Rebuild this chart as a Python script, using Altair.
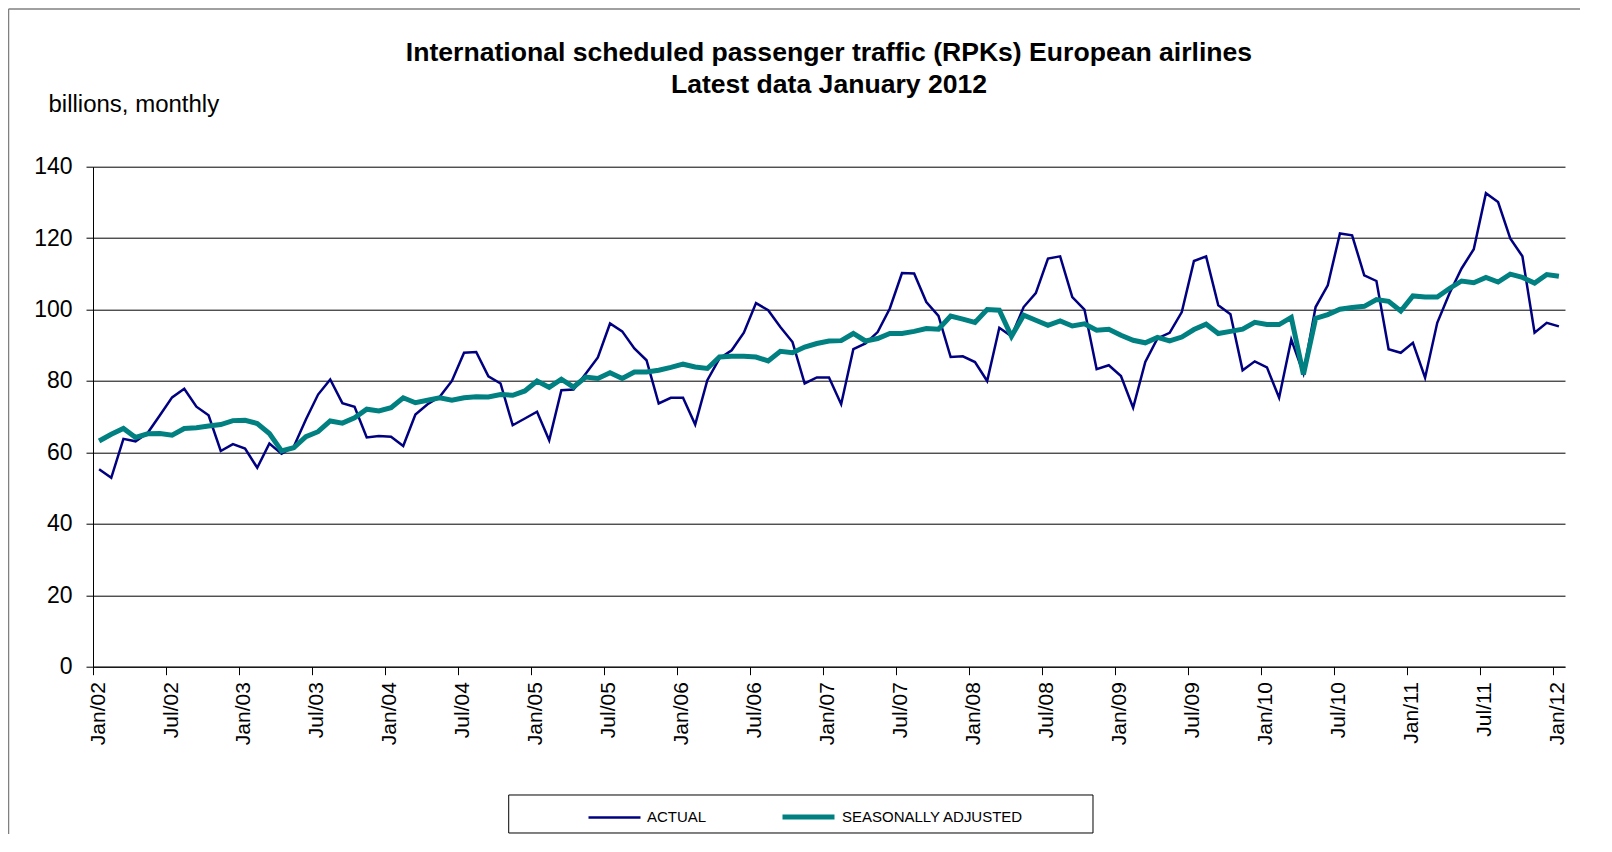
import altair as alt
import pandas as pd

# ---------------- data ----------------
tick_labels = ["Jan/02", "Jul/02", "Jan/03", "Jul/03", "Jan/04", "Jul/04", "Jan/05",
               "Jul/05", "Jan/06", "Jul/06", "Jan/07", "Jul/07", "Jan/08", "Jul/08",
               "Jan/09", "Jul/09", "Jan/10", "Jul/10", "Jan/11", "Jul/11", "Jan/12"]

# monthly values Jan 2002 .. Jan 2012 (billions RPKs)
actual = [
    55.3, 52.9, 63.8, 63.1, 65.5, 70.4, 75.4, 77.8, 72.8, 70.4, 60.4, 62.3,
    61.1, 55.7, 62.5, 59.6, 61.6, 69.2, 76.2, 80.4, 73.8, 72.8, 64.2, 64.6,
    64.4, 61.8, 70.6, 73.5, 75.6, 80.0, 87.9, 88.1, 81.3, 79.3, 67.6, 69.5,
    71.4, 63.4, 77.4, 77.6, 82.0, 86.6, 96.1, 93.9, 89.1, 85.8, 73.7, 75.3,
    75.3, 67.8, 80.2, 86.3, 88.6, 93.5, 101.8, 99.8, 95.1, 90.9, 79.3, 81.0,
    81.0, 73.5, 88.9, 90.5, 93.7, 100.3, 110.2, 110.1, 102.1, 98.2, 86.7, 86.9,
    85.3, 80.0, 94.9, 92.5, 100.7, 104.6, 114.3, 114.9, 103.5, 100.0, 83.3, 84.4,
    81.4, 72.5, 85.3, 91.9, 93.5, 99.3, 113.6, 114.9, 101.2, 98.7, 83.0, 85.5,
    83.8, 75.3, 91.6, 82.1, 100.7, 106.8, 121.3, 120.8, 109.6, 108.0, 88.9, 87.9,
    90.7, 80.9, 96.3, 104.5, 111.5, 116.9, 132.6, 130.1, 119.9, 114.9, 93.5, 96.3,
    95.3,
]

seasonally_adjusted = [
    63.2, 65.1, 66.7, 64.2, 65.2, 65.3, 64.8, 66.7, 66.9, 67.4, 67.8, 68.9,
    69.0, 68.1, 65.3, 60.4, 61.3, 64.4, 65.8, 68.8, 68.2, 69.7, 72.1, 71.6,
    72.5, 75.3, 73.9, 74.6, 75.3, 74.6, 75.3, 75.6, 75.5, 76.2, 76.0, 77.2,
    80.0, 78.2, 80.5, 78.3, 81.1, 80.7, 82.3, 80.7, 82.5, 82.5, 83.0, 83.8,
    84.7, 83.9, 83.5, 86.7, 86.9, 86.9, 86.7, 85.6, 88.3, 87.9, 89.5, 90.5,
    91.2, 91.3, 93.3, 91.2, 91.9, 93.3, 93.3, 93.9, 94.7, 94.5, 98.2, 97.3,
    96.4, 100.0, 99.8, 92.5, 98.4, 97.0, 95.6, 96.8, 95.4, 96.0, 94.2, 94.5,
    92.8, 91.4, 90.7, 92.2, 91.2, 92.3, 94.4, 95.9, 93.3, 93.9, 94.5, 96.4,
    95.8, 95.8, 97.8, 81.8, 97.5, 98.6, 100.1, 100.6, 100.9, 102.8, 102.3, 99.6,
    103.8, 103.5, 103.5, 105.9, 108.0, 107.5, 109.0, 107.7, 109.9, 109.0, 107.4, 109.8,
    109.3,
]

series_names = ["ACTUAL", "SEASONALLY ADJUSTED"]
series_colors = ["#000080", "#008080"]
y_ticks = [0, 20, 40, 60, 80, 100, 120, 140]
title_lines = ["International scheduled passenger traffic (RPKs) European airlines",
               "Latest data January 2012"]
y_title = "billions, monthly"

# ---------------- table ----------------
n = len(actual)
df = pd.DataFrame({
    "idx": list(range(n)) * 2,
    "series": [series_names[0]] * n + [series_names[1]] * n,
    "value": actual + seasonally_adjusted,
})

FONT = "Liberation Sans"
W, H = 1472, 500

label_js = "[" + ",".join("'" + t + "'" for t in tick_labels) + "]"
x_tick_values = [k * 6 - 0.5 for k in range(len(tick_labels))]

legend_def = alt.Legend(
    title=None, orient="none", direction="horizontal",
    legendX=494, legendY=621.5, symbolType="stroke", symbolSize=2704,
    labelFont=FONT, labelFontSize=15, labelColor="black", labelOffset=5,
    labelLimit=400, columnPadding=65, padding=0,
)

lines = alt.Chart(df).mark_line().encode(
    x=alt.X(
        "idx:Q",
        scale=alt.Scale(domain=[-0.5, n - 0.5], nice=False, zero=False),
        axis=alt.Axis(
            values=x_tick_values,
            labelExpr=label_js + "[round((datum.value + 0.5) / 6)]",
            labelAngle=270, labelFont=FONT, labelFontSize=21, labelColor="black",
            labelPadding=7, labelOffset=5, labelFlush=False, labelOverlap=False,
            tickSize=8, tickColor="black", domainColor="black", grid=False, title=None,
        ),
    ),
    y=alt.Y(
        "value:Q",
        scale=alt.Scale(domain=[0, 140], nice=False, zero=True),
        axis=alt.Axis(
            values=y_ticks, labelFont=FONT, labelFontSize=23, labelColor="black",
            labelPadding=14, tickSize=7, tickColor="black", domainColor="black",
            grid=True, gridColor="black", gridWidth=1,
            title=y_title, titleAngle=0, titleAlign="left", titleBaseline="alphabetic",
            titleX=-45, titleY=-55, titleFont=FONT, titleFontSize=24,
            titleFontWeight="normal", titleColor="black",
        ),
    ),
    color=alt.Color("series:N", scale=alt.Scale(domain=series_names, range=series_colors),
                    legend=legend_def),
    strokeWidth=alt.StrokeWidth("series:N", scale=alt.Scale(domain=series_names, range=[2.5, 5]),
                                legend=legend_def),
)

one = pd.DataFrame({"k": [0]})

# outer frame of the chart (top and left edges, the others lie outside the page)
frame_top = alt.Chart(one).mark_rule(color="#808080", strokeWidth=1.5).encode(
    x=alt.value(-84.5), x2=alt.value(W + 300), y=alt.value(-157.7)
)
frame_left = alt.Chart(one).mark_rule(color="#808080", strokeWidth=1.5).encode(
    x=alt.value(-84.5), y=alt.value(-157.7), y2=alt.value(H + 400)
)

legend_box = alt.Chart(one).mark_rect(fill="white", fillOpacity=0, stroke="black", strokeWidth=1).encode(
    x=alt.value(415.7), x2=alt.value(1000), y=alt.value(628.3), y2=alt.value(666.3)
)

chart = alt.layer(frame_top, frame_left, lines, legend_box).properties(
    width=W, height=H,
    title=alt.TitleParams(
        text=title_lines, font=FONT, fontSize=26.6, fontWeight="bold", color="black",
        anchor="middle", frame="group", lineHeight=31.7, offset=0, dy=90.5,
    ),
    autosize=alt.AutoSizeParams(type="none"),
    padding={"left": 85, "top": 158.7, "right": 15, "bottom": 167},
).configure_view(strokeWidth=0)

chart.save("out.html", embed_options={"renderer": "svg", "actions": False})
